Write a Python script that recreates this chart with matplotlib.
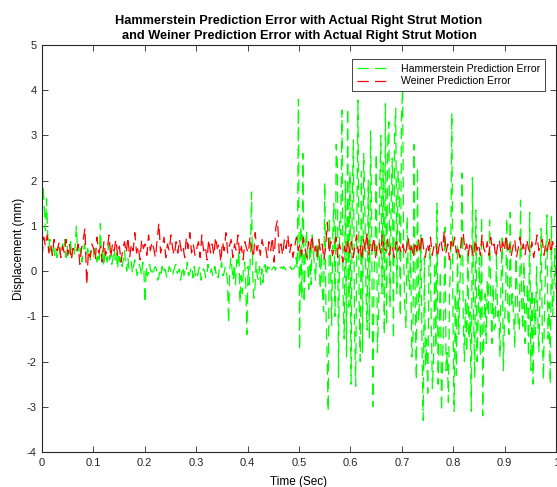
import matplotlib
matplotlib.use("Agg")
import matplotlib.pyplot as plt
import numpy as np

plt.rcParams['font.family'] = ['Liberation Sans', 'DejaVu Sans']
plt.rcParams['axes.unicode_minus'] = False

# Hammerstein prediction error (mm)
hammerstein = [
    1.2, 1.9, 1.4, 0.9, 1.6, 0.8, 0.5, 0.7, 0.45, 0.4, 0.6, 0.35, 0.5, 0.3, 0.55,
    0.5, 0.35, 0.45, 0.6, 0.45, 0.7, 0.3, 0.55, 0.4, 0.4, 0.65, 0.3, 0.5, 0.35, 0.55,
    1.0, 0.45, 0.55, 0.3, 0.5, 0.2, 0.4, 0.6, 0.45, 0.35, 0.5, 0.3, 0.25, 0.45, 0.35,
    0.3, 0.5, 0.35, 0.2, 0.4, 0.25, 1.05, 0.3, 0.5, 0.1, 0.45, 0.3, 0.2, 0.6, 0.25,
    0.35, 0.15, 0.3, 0.5, 0.25, 0.4, 0.05, 0.4, 0.2, 0.3, 0.1, 0.25, 0.45, 0.2, 0.0,
    0.3, 0.05, 0.15, 0.2, -0.05, 0.1, 0.25, 0.1, -0.1, 0.0, 0.15, 0.05, -0.1, 0.2, 0.0,
    -0.7, 0.1, -0.1, -0.05, 0.15, 0.0, 0.0, -0.1, 0.05, 0.1, 0.05, -0.2, -0.15, 0.05, -0.05,
    0.1, -0.05, 0.05, 0.0, -0.15, -0.05, 0.1, 0.05, -0.1, -0.1, 0.0, 0.1, 0.15, -0.05, 0.0,
    0.05, -0.2, -0.05, 0.1, -0.1, 0.05, 0.0, 0.2, -0.1, -0.05, 0.05, 0.1, -0.15, 0.1, -0.1,
    0.0, -0.1, 0.05, 0.1, -0.2, -0.05, 0.05, 0.0, -0.15, -0.1, 0.15, 0.0, -0.05, 0.05, -0.1,
    -0.1, 0.1, -0.05, 0.0, -0.15, 0.1, 0.05, 0.2, -0.1, -0.05, 0.1, 0.0, -0.2, -1.15, 0.05,
    0.3, 0.05, -0.2, 0.15, -0.3, 0.25, 0.1, 0.45, -0.7, -0.1, -0.5, 0.1, 0.2, -0.3, -1.4,
    0.1, -0.3, 0.3, 1.75, 0.0, -0.6, -0.4, 0.2, -0.1, -0.2, 0.1, -0.3, 0.05, -0.25, 0.1,
    0.15, -0.1, 0.1, 0.05, 0.1, 0.0, 0.05, 0.08, 0.1, 0.02, 0.1, 0.04, 0.05, 0.07, 0.09,
    0.05, 0.1, 0.06, 0.03, 0.08, 0.1, 0.05, 0.1, 0.04, 0.04, 0.06, 0.1, 0.3, 0.05, 3.8,
    -1.75, 1.0, -0.6, 2.6, -0.7, 0.4, 0.9, 0.2, -0.4, 0.6, -0.3, 0.8, 0.5, 0.1, -0.2,
    0.6, 0.2, 0.7, -0.4, 0.4, -0.5, -0.9, 1.95, -0.8, -1.8, -3.1, 1.2, 0.3, -1.2, 0.8,
    1.5, -1.0, 2.8, 2.4, -2.35, 1.1, 0.8, 3.56, -0.5, -1.5, 2.0, -1.9, 3.6, -0.8, 2.2,
    -2.5, 1.6, 2.9, -1.2, -2.55, 1.0, 3.78, -0.6, -2.0, 2.2, -1.8, 2.6, 1.4, -0.4, -1.3,
    2.0, -1.5, 3.1, 1.0, -3.0, -0.2, 0.5, 2.6, -1.8, -1.0, 1.8, 3.0, -0.5, 2.4, -1.4,
    3.7, -1.2, 2.8, 3.3, -0.8, 1.5, 2.5, -1.5, 3.0, 3.6, -0.5, 2.2, 1.9, -1.0, 3.4,
    4.05, 0.2, -0.9, -1.25, 1.2, -0.2, -0.4, 0.6, -1.9, -1.6, 2.8, -0.7, -2.4, 2.3, -1.1,
    -0.5, 0.8, -1.8, -3.3, 0.3, -2.1, -1.5, -2.7, 0.1, 0.5, -1.0, -2.6, -2.0, 0.2, -1.7,
    1.5, -2.5, -1.2, 0.0, -3.1, -1.9, -0.8, 0.97, -2.2, -1.8, -2.9, -0.5, 0.3, 3.5, -1.0,
    -3.1, -0.5, -2.3, 0.6, -1.4, -0.3, 0.2, 2.17, -1.1, -2.0, -0.6, -1.8, 0.5, -1.5, -0.9,
    -3.1, 2.07, -1.0, -2.37, 1.35, -2.0, -1.0, 0.3, -1.9, 1.2, -3.2, -1.2, -0.5, -1.6, -0.2,
    -1.0, 1.13, -0.6, -1.6, -0.3, -1.3, -1.2, 0.4, -1.0, -0.8, -1.9, -0.2, 0.73, -2.2, -1.1,
    -0.6, 1.17, -1.0, -1.4, 1.3, -0.8, -0.5, -1.0, -1.7, 0.3, -0.4, -1.2, -1.3, 1.57, -0.7,
    -1.3, 0.2, -1.6, -0.9, -0.3, -1.9, 1.3, -2.2, -0.4, -2.5, -0.6, -1.4, 0.1, -1.0, -1.8,
    -0.5, 0.94, -1.3, -2.4, -0.8, 0.2, 1.24, -1.5, -0.7, -2.5, 1.2, -1.0, -0.6, 0.5, -0.4,
]

# Weiner prediction error (mm)
weiner = [
    0.3, 0.75, 0.55, 0.8, 0.4, 0.6, 0.35, 0.7, 0.5, 0.45,
    0.65, 0.3, 0.55, 0.4, 0.7, 0.35, 0.6, 0.25, 0.5, 0.45,
    0.4, 0.6, 0.15, 0.5, 0.7, 0.95, -0.3, 0.45, 0.3, 0.6,
    0.5, 0.25, 0.75, 0.4, 0.55, 0.2, 0.65, 0.35, 0.5, 0.8,
    0.3, 0.6, 0.45, 0.7, 0.35, 0.55, 0.2, 0.5, 0.65, 0.4,
    0.75, 0.3, 0.6, 0.45, 0.85, 0.4, 0.55, 0.25, 0.7, 0.5,
    0.6, 0.35, 0.8, 0.45, 0.65, 0.5, 0.3, 0.7, 1.06, 0.4,
    0.55, 0.75, 0.3, 0.6, 0.45, 0.8, 0.5, 0.35, 0.65, 0.4,
    0.7, 0.45, 0.55, 0.3, 0.75, 0.5, 0.85, 0.4, 0.6, 0.35,
    0.5, 0.65, 0.3, 0.8, 0.45, 0.55, 0.25, 0.7, 0.4, 0.6,
    0.35, 0.75, 0.5, 0.6, 0.2, 0.65, 0.45, 0.85, 0.4, 0.55,
    0.7, 0.3, 0.6, 0.45, 0.8, 0.35, 0.55, 0.25, 0.65, 0.5,
    0.4, 0.75, 0.5, 0.3, 0.85, 0.45, 0.6, 0.35, 0.7, 0.5,
    0.55, 0.3, 0.65, 0.45, 0.75, 0.2, 0.97, 1.13, 0.4, 0.6,
    0.35, 0.7, 0.5, 0.8, 0.4, 0.6, 0.3, 0.55, 0.75, 0.45,
    0.6, 0.35, 0.75, 0.5, 0.3, 0.65, 0.45, 0.8, 0.4, 0.55,
    0.3, 0.7, 0.45, 0.6, 0.25, 0.55, 1.08, 0.4, 0.65, 0.35,
    0.5, 0.75, 0.3, 0.6, 0.45, 0.2, 0.55, 0.35, 0.7, 0.4,
    0.65, 0.3, 0.55, 0.8, 0.4, 0.6, 0.25, 0.7, 0.45, 0.85,
    0.35, 0.6, 0.45, 0.75, 0.3, 0.55, 0.65, 0.4, 0.8, 0.5,
    0.45, 0.7, 0.35, 0.6, 0.5, 0.3, 0.65, 0.45, 0.55, 0.4,
    0.6, 0.35, 0.5, 0.75, 0.4, 0.55, 0.3, 0.65, 0.45, 0.7,
    0.4, 0.8, 0.5, 0.3, 0.6, 0.45, 0.75, 0.35, 0.55, 0.65,
    0.3, 0.55, 0.7, 0.45, 0.9, 0.4, 0.6, 0.25, 0.65, 0.5,
    0.75, 0.4, 0.55, 0.3, 0.7, 0.85, 0.45, 0.6, 0.35, 0.65,
    0.5, 0.3, 0.7, 0.45, 0.6, 0.35, 0.8, 0.5, 0.4, 0.65,
    0.35, 0.75, 0.5, 0.6, 0.3, 0.55, 0.7, 0.4, 0.65, 0.45,
    0.8, 0.4, 0.6, 0.35, 0.55, 0.7, 0.3, 0.5, 0.75, 0.45,
    0.6, 0.35, 0.7, 0.5, 0.4, 0.65, 0.3, 0.55, 0.8, 0.45,
    0.55, 0.7, 0.35, 0.6, 0.45, 0.75, 0.4, 0.65, 0.5, 0.55,
]

# evenly sampled time over one second
tH = np.arange(len(hammerstein)) / (len(hammerstein) - 1)
tW = np.arange(len(weiner)) / (len(weiner) - 1)

fig = plt.figure(figsize=(5.57, 4.87), dpi=100)
ax = fig.add_axes([42 / 557, 35 / 487, 514 / 557, 407 / 487])

ax.plot(tH, hammerstein, color='#00ff00', linestyle='--', linewidth=0.9,
        dashes=(9, 5), label='Hammerstein Prediction Error')
ax.plot(tW, weiner, color='#ff0000', linestyle='--', linewidth=0.9,
        dashes=(9, 5), label='Weiner Prediction Error')

ax.set_xlim(0, 1)
ax.set_ylim(-4, 5)
ax.set_xticks(np.arange(0, 1.01, 0.1))
ax.set_xticklabels(['0', '0.1', '0.2', '0.3', '0.4', '0.5', '0.6', '0.7', '0.8', '0.9', '1'])
ax.set_yticks(np.arange(-4, 6, 1))

ax.tick_params(direction='in', length=4, width=0.6, labelsize=8, top=True, right=True,
               colors='#262626', pad=4)
for s in ax.spines.values():
    s.set_linewidth(0.8)
    s.set_color('#262626')

ax.set_xlabel('Time (Sec)', fontsize=8.5, labelpad=6)
ax.set_ylabel('Displacement (mm)', fontsize=8.5, labelpad=1)
ax.set_title('Hammerstein Prediction Error with Actual Right Strut Motion\n'
             'and Weiner Prediction Error with Actual Right Strut Motion',
             fontsize=9.2, fontweight='bold', pad=4, linespacing=1.35)

leg = ax.legend(loc='upper right', fontsize=7.6, fancybox=False, framealpha=1,
                edgecolor='#262626', handlelength=3.3, handletextpad=0.9,
                borderpad=0.45, labelspacing=0.25, borderaxespad=0,
                bbox_to_anchor=(0.979, 0.966))
leg.get_frame().set_linewidth(0.6)

fig.savefig('out.png', dpi=100)
